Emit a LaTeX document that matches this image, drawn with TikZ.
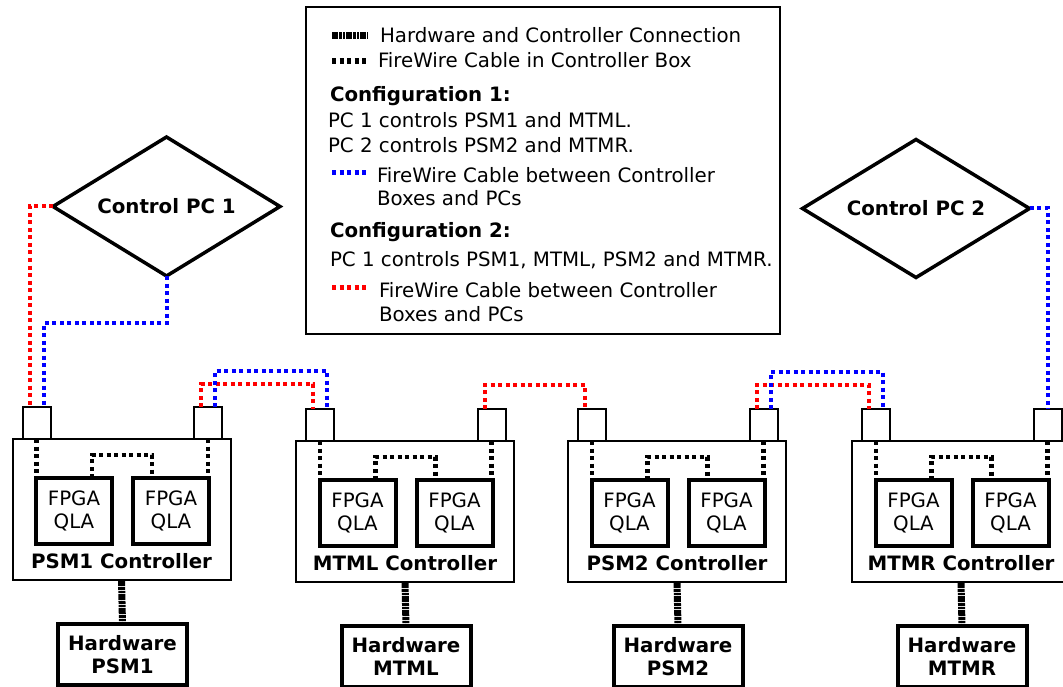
\documentclass[tikz,border=0pt]{standalone}
\usepackage{fontspec}
\setmainfont{DejaVu Sans}
\usetikzlibrary{shapes.geometric,calc}
\tikzset{
  every node/.style={font=\fontsize{19.8}{23}\selectfont, inner sep=0pt, outer sep=0pt},
  ctrlbox/.style={draw, line width=2pt, minimum width=218, minimum height=141},
  port/.style={draw, line width=2pt, fill=white, minimum width=28, minimum height=32},
  fpga/.style={draw, line width=4pt, minimum width=76, minimum height=66, align=center},
  hwbox/.style={draw, line width=4pt, minimum width=129, minimum height=61, align=center, font=\fontsize{19.8}{23}\selectfont\bfseries},
  ctrllabel/.style={font=\fontsize{19.8}{23}\selectfont\bfseries, text height=14pt, text depth=0pt},
  pcnode/.style={draw, shape=diamond, aspect=1.65, line width=3.5pt, minimum width=227, minimum height=139, font=\fontsize{19.8}{23}\selectfont\bfseries, text height=14pt, text depth=0pt},
  legtext/.style={anchor=base west},
  legbold/.style={anchor=base west, font=\fontsize{19.8}{23}\selectfont\bfseries},
  fwin/.style={line width=4.5pt, dash pattern=on 4pt off 3.5pt},
  hwconn/.style={line width=7pt, dash pattern=on 6pt off 1pt on 3pt off 1pt on 2pt off 1pt},
  bluecable/.style={blue, line width=4pt, dash pattern=on 4pt off 3.5pt},
  redcable/.style={red, line width=4pt, dash pattern=on 4pt off 3.5pt},
  legbox/.style={draw, line width=2pt}
}
\newcommand\mkctrl[5]{%
  \node[ctrlbox] (#1) at (#2,#3+70.5) {};
  \node[port, anchor=south] (#1L) at (#2-85,#3) {};
  \node[port, anchor=south] (#1R) at (#2+86.5,#3) {};
  \node[fpga] (#1A) at (#2-47.5,#3+72) {FPGA\\QLA};
  \node[fpga] (#1B) at (#2+49.5,#3+72) {FPGA\\QLA};
  \node[ctrllabel] (#1T) at (#2,#3+122.5) {#4 Controller};
  \node[hwbox, anchor=north] (#1H) at (#2+1,#3+185) {Hardware\\#5};
  \draw[fwin] (#1L.south) -- (#1L.south |- #1A.north);
  \draw[fwin] (#1R.south) -- (#1R.south |- #1B.north);
  \draw[fwin] ($(#1A.north)+(18,0)$) -- ++(0,-23) -| ($(#1B.north)+(-19,0)$);
  \draw[hwconn] (#1.south) -- (#1H.north);
}
\begin{document}
\begin{tikzpicture}[x=1pt, y=-1pt]
\useasboundingbox (0,0) rectangle (1063,687);

% legend
\node[legbox, minimum width=474, minimum height=327] (legend) at (543,170.5) {};
\coordinate (l1a) at (332,36); \coordinate (l1b) at (368,36);
\coordinate (l2a) at (332,61); \coordinate (l2b) at (368,61);
\coordinate (l3a) at (332,173); \coordinate (l3b) at (366,173);
\coordinate (l4a) at (332,287); \coordinate (l4b) at (366,287);
\draw[hwconn] (l1a) -- (l1b);
\draw[fwin, line width=6pt] (l2a) -- (l2b);
\draw[bluecable, line width=5pt] (l3a) -- (l3b);
\draw[redcable, line width=5pt] (l4a) -- (l4b);
\node[legtext] (t1) at (380,43) {Hardware and Controller Connection};
\node[legtext] (t2) at (378,68) {FireWire Cable in Controller Box};
\node[legbold] (t3) at (330,102) {Configuration 1:};
\node[legtext] (t4) at (328,128) {PC 1 controls PSM1 and MTML.};
\node[legtext] (t5) at (328,153) {PC 2 controls PSM2 and MTMR.};
\node[legtext] (t6) at (377,183) {FireWire Cable between Controller};
\node[legtext] (t7) at (377,206) {Boxes and PCs};
\node[legbold] (t8) at (330,238) {Configuration 2:};
\node[legtext] (t9) at (330,266) {PC 1 controls PSM1, MTML, PSM2 and MTMR.};
\node[legtext] (t10) at (379,297) {FireWire Cable between Controller};
\node[legtext] (t11) at (379,321) {Boxes and PCs};

% PCs
\node[pcnode] (pc1) at (166.5,206.5) {Control PC 1};
\node[pcnode, minimum height=138] (pc2) at (916,208.5) {Control PC 2};

% controllers
\mkctrl{c1}{121.5}{439}{PSM1}{PSM1}
\mkctrl{c2}{405}{441}{MTML}{MTML}
\mkctrl{c3}{677}{441}{PSM2}{PSM2}
\mkctrl{c4}{961}{441}{MTMR}{MTMR}

% cables
\draw[redcable] (pc1.west) -| ($(c1L.north)+(-7,0)$);
\draw[bluecable] (pc1.south) -- ++(0,47) -| ($(c1L.north)+(7,0)$);
\draw[redcable] ($(c1R.north)+(-7,0)$) -- ++(0,-23) -| ($(c2L.north)+(-7,0)$);
\draw[bluecable] ($(c1R.north)+(7,0)$) -- ++(0,-36) -| ($(c2L.north)+(7,0)$);
\draw[redcable] ($(c2R.north)+(-7,0)$) -- ++(0,-24) -| ($(c3L.north)+(-7,0)$);
\draw[redcable] ($(c3R.north)+(-7,0)$) -- ++(0,-24) -| ($(c4L.north)+(-7,0)$);
\draw[bluecable] ($(c3R.north)+(7,0)$) -- ++(0,-37) -| ($(c4L.north)+(7,0)$);
\draw[bluecable] (pc2.east) -| (c4R.north);
\end{tikzpicture}
\end{document}
